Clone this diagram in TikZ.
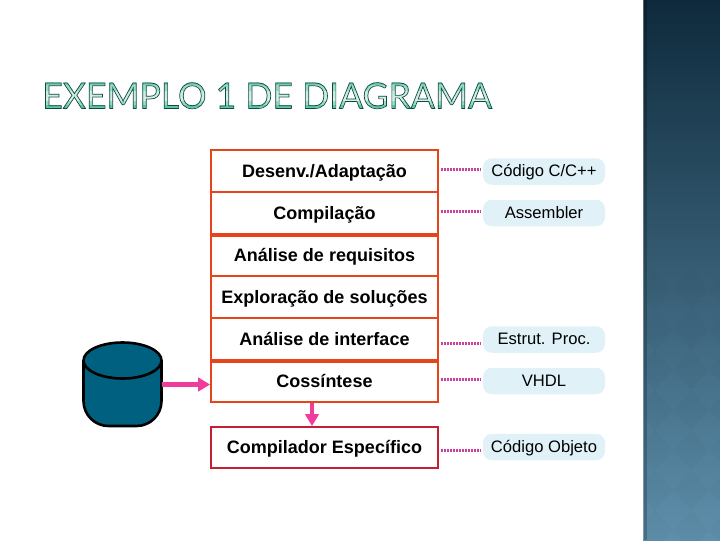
\documentclass[tikz,border=0pt]{standalone}
\usepackage{fontspec}
\setmainfont{Liberation Sans}
\newfontfamily\titlefont{Lato}
\usetikzlibrary{calc,arrows.meta}
\definecolor{rowred}{HTML}{E8441A}
\definecolor{lastred}{HTML}{C42032}
\definecolor{pinkarrow}{HTML}{F03C9C}
\definecolor{dotpink}{HTML}{C8429E}
\definecolor{pillblue}{HTML}{E0F2F8}
\definecolor{diskblue}{HTML}{00607F}
\definecolor{titleedge}{HTML}{0E4A44}
\definecolor{titlemint}{HTML}{58C4A0}
\definecolor{bandtop}{HTML}{0E2A3C}
\definecolor{bandmid}{HTML}{3D6079}
\definecolor{bandbot}{HTML}{5E8FAB}
\newlength{\pxu}
\setlength{\pxu}{0.025cm}
\newcommand{\rowfont}{\fontsize{12.8}{14}\selectfont\bfseries}
\newcommand{\pillfont}{\fontsize{11.8}{13}\selectfont}
\newcommand{\titleword}{EXEMPLO 1 DE DIAGRAMA}
\tikzset{
	rowbox/.style={draw=rowred,line width=1.8\pxu,minimum width=227\pxu,minimum height=42\pxu,inner sep=0pt,text height=11pt,text depth=2.4pt,font=\rowfont},
	pill/.style={fill=pillblue,rounded corners=9\pxu,minimum width=122\pxu,minimum height=26.5\pxu,inner sep=0pt,text height=10pt,text depth=2.2pt,font=\pillfont},
	dotline/.style={dotpink,line width=3\pxu,dash pattern=on 2\pxu off 1\pxu,shorten <=2\pxu,shorten >=2\pxu},
	pinkline/.style={pinkarrow,line width=3.3pt,-{Triangle[length=8.5pt,width=9.5pt]}},
	titletext/.style={inner sep=0pt,anchor=base west,font=\titlefont\fontsize{25.3}{26}\selectfont}
}
\begin{document}
\begin{tikzpicture}[x=0.025cm,y=-0.025cm]
	\useasboundingbox (0,0) rectangle (720,540);
	% side band
	\shade[top color=bandtop,middle color=bandmid,bottom color=bandbot] (643,0) rectangle (720,540);
	\begin{scope}
		\clip (647,0) rectangle (720,540);
		\foreach \y in {0,1,...,6}
			\foreach \x in {0,1,2}
				{\fill[black,opacity=0.02] (655+\x*36,270+\y*40) -- ++(18,20) -- ++(-18,20) -- ++(-18,-20) -- cycle;}
	\end{scope}
	\fill[black,opacity=0.22] (643,0) rectangle (647,540);
	\fill[white,opacity=0.3] (642,0) rectangle (644,540);
	% title
	\foreach \a/\b/\c in {78/85/85,85/91/60,91/97/30,97/101/25,101/105/60,105/111/95}
		{\begin{scope}
			\clip (0,\a) rectangle (720,\b);
			\node[titletext,text=titlemint!\c!white] (title\a) at (42,108.5) {\titleword};
		\end{scope}}
	\node[titletext,text=titleedge] (title) at (42,108.5) {\special{pdf:code 1 Tr 0.5 w}\titleword\special{pdf:code 0 Tr}};
	% stack of rows
	\node[rowbox] (desenv) at (324.5,171) {Desenv./Adaptação};
	\node[rowbox] (compil) at (324.5,213) {Compilação};
	\node[rowbox] (requis) at (324.5,255) {Análise de requisitos};
	\node[rowbox] (explor) at (324.5,297) {Exploração de soluções};
	\node[rowbox] (interf) at (324.5,339) {Análise de interface};
	\node[rowbox] (cossin) at (324.5,381) {Cossíntese};
	\node[rowbox,draw=lastred,minimum height=41\pxu] (compesp) at (324.5,447.5) {Compilador Específico};
	\draw[rowred,line width=3.4\pxu] (compil.south west) -- (compil.south east);
	\draw[rowred,line width=3.4\pxu] (interf.south west) -- (interf.south east);
	% outputs
	\node[pill] (codc) at (544,171.5) {Código C/C++};
	\node[pill] (asm) at (544,213) {Assembler};
	\node[pill] (estr) at (544,339.5) {Estrut. Proc.};
	\node[pill] (vhdl) at (544,381) {VHDL};
	\node[pill] (objeto) at (544,447) {Código Objeto};
	\foreach \a/\b/\y in {desenv/codc/169,compil/asm/211,interf/estr/343,cossin/vhdl/379,compesp/objeto/450}
		{\draw[dotline] (\a.east |- 0,\y) -- (\b.west |- 0,\y);}
	% disk
	\node[minimum width=78\pxu,minimum height=84\pxu,inner sep=0pt] (disk) at (122.5,384.5) {};
	\draw[fill=diskblue,line width=2.6\pxu,rounded corners=25\pxu] (83.5,360.5) -- (83.5,426) -- (161.5,426) -- (161.5,360.5);
	\draw[fill=diskblue,line width=2.6\pxu] (122.5,360.5) ellipse [x radius=39,y radius=18];
	\draw[pinkline] (disk.east) -- (disk.east -| cossin.west);
	\draw[pinkline] ([xshift=-12.5\pxu]cossin.south) -- ([xshift=-12.5\pxu]compesp.north);
\end{tikzpicture}
\end{document}
